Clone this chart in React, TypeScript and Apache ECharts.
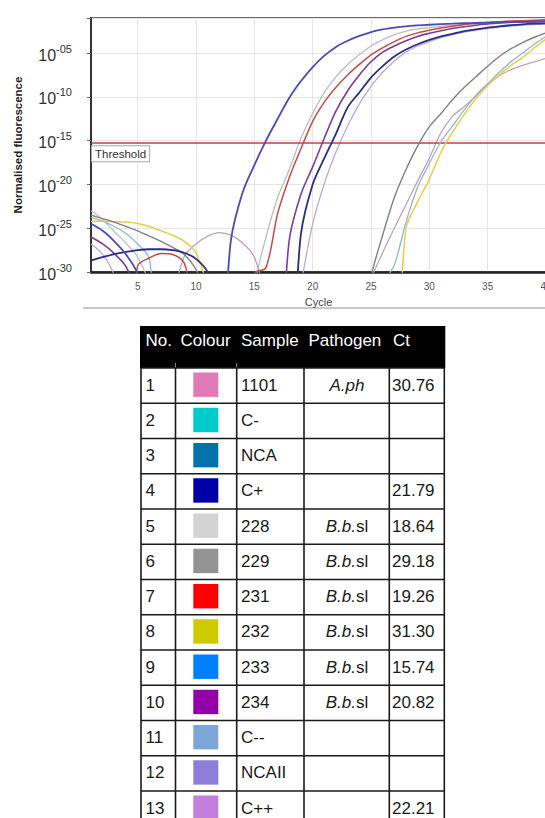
import React, { useEffect, useRef } from 'react';
import * as echarts from 'echarts';

const FONT = '"Liberation Sans", Arial, sans-serif';

// ---------- chart data ----------
const cycles = [1, 2, 3, 4, 5, 6, 7, 8, 9, 10, 11, 12, 13, 14, 15, 16, 17, 18, 19, 20,
  21, 22, 23, 24, 25, 26, 27, 28, 29, 30, 31, 32, 33, 34, 35, 36, 37, 38, 39, 40];

// log10 of the threshold fluorescence
const thresholdLog10 = -15.3;
const yTickExponents = [-30, -25, -20, -15, -10, -5];

// log10 of normalised fluorescence, one value per cycle (-40 = below the axis floor)
const log10Lavender = [-26.8, -28.0, -30.5, -40, -40, -40, -40, -40, -40, -40, -40, -40, -40, -40, -40, -40, -40, -40,
  -31.5, -24.5, -19.9, -16.3, -13.3, -10.8, -8.8, -7.2, -5.9, -4.9, -4.2, -3.7, -3.25, -2.9, -2.6, -2.4, -2.2, -2.05, -1.92, -1.82, -1.75, -1.7];
const log10LightGrey = [-23.0, -24.0, -25.4, -26.7, -28.3, -31.5, -40, -40, -40, -40, -40, -40, -40, -40,
  -31.5, -26.0, -21.5, -18.3, -14.7, -11.9, -9.5, -7.7, -6.3, -5.2, -4.2, -3.5, -2.9, -2.5, -2.25, -2.1, -1.95, -1.85, -1.75, -1.68, -1.6, -1.55, -1.5, -1.47, -1.45, -1.42];
const log10Mauve = [-40, -40, -40, -40, -40, -40, -40, -33, -28.2, -26.8, -25.9, -25.5, -25.8, -26.7, -28.3, -33, -40, -40, -40, -40, -40, -40, -40, -40,
  -31.0, -27.8, -25.0, -22.3, -19.6, -17.0, -14.1, -12.2, -11.1, -9.9, -8.6, -7.6, -6.9, -6.4, -6.0, -5.6];
const log10LightBlue = [-23.8, -24.2, -24.8, -25.6, -26.8, -28.5, -40, -40, -40, -40, -40, -40, -40, -40, -40, -40, -40, -40, -40, -40, -40, -40, -40, -40, -40,
  -31.5, -29.2, -24.3, -20.3, -17.6, -15.1, -13.3, -11.5, -9.8, -8.5, -7.2, -6.0, -5.0, -4.0, -3.1];
const log10Yellow = [-24.2, -24.2, -24.25, -24.3, -24.45, -24.8, -25.3, -25.8, -26.5, -27.8, -32, -40, -40, -40, -40, -40, -40, -40, -40, -40, -40, -40, -40, -40, -40, -40, -40,
  -25.0, -22.0, -19.4, -16.3, -14.0, -12.0, -10.2, -8.7, -7.5, -6.4, -5.5, -4.4, -3.4];
const log10DarkGrey = [-23.5, -23.9, -24.3, -24.8, -25.3, -25.9, -26.5, -27.2, -28.0, -29.7, -33, -40, -40, -40, -40, -40, -40, -40, -40, -40, -40, -40, -40, -40,
  -30.6, -25.8, -21.5, -18.3, -15.6, -13.4, -11.9, -10.3, -8.9, -7.7, -6.5, -5.4, -4.5, -3.8, -3.2, -2.7];
const log10Red = [-40, -40, -40, -40, -29.3, -28.4, -27.9, -28.0, -29.0, -35, -40, -40, -40, -40,
  -30.2, -29.5, -23.3, -19.2, -15.9, -12.8, -10.6, -8.9, -7.5, -6.3, -5.2, -4.4, -3.7, -3.1, -2.7, -2.4, -2.15, -1.95, -1.75, -1.6, -1.5, -1.42, -1.35, -1.3, -1.25, -1.2];
const log10Purple = [-26.0, -26.8, -27.9, -29.4, -33, -40, -40, -40, -40, -40, -40, -40, -40, -40, -40, -40, -40,
  -26.3, -21.1, -18.0, -14.7, -11.6, -9.3, -7.5, -6.0, -4.9, -4.2, -3.6, -3.1, -2.75, -2.45, -2.2, -2.0, -1.82, -1.68, -1.57, -1.48, -1.42, -1.38, -1.35];
const log10Navy = [-28.7, -28.3, -27.95, -27.7, -27.5, -27.4, -27.4, -27.5, -27.8, -28.5, -30.1, -40, -40, -40, -40, -40, -40, -40,
  -25.6, -20.0, -17.0, -14.2, -11.2, -9.5, -7.8, -6.5, -5.4, -4.6, -4.0, -3.5, -3.1, -2.8, -2.5, -2.3, -2.1, -1.95, -1.82, -1.72, -1.65, -1.6];
const log10Blue = [-24.5, -25.3, -26.5, -28.0, -30.3, -40, -40, -40, -40, -40, -40, -40,
  -26.3, -20.9, -17.8, -15.0, -12.5, -10.1, -8.2, -6.6, -5.3, -4.3, -3.6, -3.05, -2.6, -2.3, -2.1, -1.95, -1.85, -1.77, -1.7, -1.65, -1.6, -1.56, -1.53, -1.5, -1.47, -1.45, -1.43, -1.41];

const curveNames = ['C++', '228', '1101', 'C--', '232', '229', '231', '234', 'C+', '233'];
const curveLog10 = [log10Lavender, log10LightGrey, log10Mauve, log10LightBlue, log10Yellow, log10DarkGrey, log10Red, log10Purple, log10Navy, log10Blue];
const curveColours = ['#bda9d6', '#bdbdbd', '#bfa3b8', '#8fb6dc', '#e6cf45', '#808080', '#c84a44', '#7d3c98', '#2c2c86', '#4a4ab8'];
const curveWidths = [1.3, 1.3, 1.3, 1.3, 1.5, 1.4, 1.5, 1.6, 1.8, 1.8];

// ---------- table data ----------
const tableHeaders = ['No.', 'Colour', 'Sample', 'Pathogen', 'Ct'];
const tableNo = ['1', '2', '3', '4', '5', '6', '7', '8', '9', '10', '11', '12', '13'];
const tableColours = ['#de7ab6', '#00cbcb', '#0074a8', '#0000a8', '#d3d3d3', '#939393', '#ff0000', '#cbcb00', '#0080ff', '#9400a8', '#7ca6d8', '#8e7ed8', '#c27fdc'];
const tableSamples = ['1101', 'C-', 'NCA', 'C+', '228', '229', '231', '232', '233', '234', 'C--', 'NCAII', 'C++'];
const tablePathogens = ['A.ph', '', '', '', 'B.b.sl', 'B.b.sl', 'B.b.sl', 'B.b.sl', 'B.b.sl', 'B.b.sl', '', '', ''];
const tableCt = ['30.76', '', '', '21.79', '18.64', '29.18', '19.26', '31.30', '15.74', '20.82', '', '', '22.21'];

function buildTable() {
  const els: any[] = [];
  const colX = [141, 175.5, 236.7, 304, 389.3, 444.3];
  const headerTop = 326;
  const bodyTop = 368;
  const rowH = 35.25;
  const headerTextX = [145.5, 180.5, 241, 308.5, 393];
  els.push({ type: 'rect', shape: { x: 140, y: headerTop, width: 305.3, height: bodyTop - headerTop }, style: { fill: '#000' } });
  tableHeaders.forEach((h, i) => {
    els.push({ type: 'text', x: headerTextX[i], y: 340.5, style: { text: h, fill: '#fff', fontSize: 17, fontFamily: FONT, verticalAlign: 'middle', align: 'left' } });
  });
  [colX[1], colX[2]].forEach((x) => {
    els.push({ type: 'line', shape: { x1: x, y1: 363, x2: x, y2: 368 }, style: { stroke: '#888', lineWidth: 1 } });
  });
  const n = tableNo.length;
  const bottom = bodyTop + rowH * n;
  for (let r = 0; r <= n; r++) {
    const y = bodyTop + rowH * r;
    els.push({ type: 'line', shape: { x1: colX[0], y1: y, x2: colX[5], y2: y }, style: { stroke: '#1a1a1a', lineWidth: 1.6 } });
  }
  colX.forEach((x) => {
    els.push({ type: 'line', shape: { x1: x, y1: bodyTop, x2: x, y2: bottom }, style: { stroke: '#1a1a1a', lineWidth: 1.6 } });
  });
  for (let r = 0; r < n; r++) {
    const top = bodyTop + rowH * r;
    const mid = top + rowH / 2 - 0.5;
    els.push({ type: 'text', x: 145.5, y: mid, style: { text: tableNo[r], fill: '#1a1a1a', fontSize: 17, fontFamily: FONT, verticalAlign: 'middle', align: 'left' } });
    els.push({ type: 'rect', shape: { x: 193.3, y: top + 4.5, width: 25, height: 24.4 }, style: { fill: tableColours[r] } });
    els.push({ type: 'text', x: 241, y: mid, style: { text: tableSamples[r], fill: '#1a1a1a', fontSize: 17, fontFamily: FONT, verticalAlign: 'middle', align: 'left' } });
    const p = tablePathogens[r];
    if (p) {
      const rich = p === 'B.b.sl' ? '{i|B.b.}{n|sl}' : '{i|' + p + '}';
      els.push({
        type: 'text', x: 347, y: mid,
        style: {
          text: rich, fill: '#1a1a1a', fontSize: 17, fontFamily: FONT, verticalAlign: 'middle', align: 'center',
          rich: {
            i: { fontSize: 17, fontFamily: FONT, fontStyle: 'italic', fill: '#1a1a1a' },
            n: { fontSize: 17, fontFamily: FONT, fill: '#1a1a1a' },
          },
        },
      });
    }
    if (tableCt[r]) {
      els.push({ type: 'text', x: 392, y: mid, style: { text: tableCt[r], fill: '#1a1a1a', fontSize: 17, fontFamily: FONT, verticalAlign: 'middle', align: 'left' } });
    }
  }
  return els;
}

export default function App() {
  const ref = useRef<HTMLDivElement>(null);
  useEffect(() => {
    const chart = echarts.init(ref.current as HTMLDivElement, null, { renderer: 'svg' });
    const series: any[] = curveLog10.map((arr, k) => ({
      name: curveNames[k],
      type: 'line',
      data: arr.map((e, i) => [cycles[i], e]),
      showSymbol: false,
      symbol: 'none',
      smooth: 0.3,
      clip: true,
      lineStyle: { color: curveColours[k], width: curveWidths[k] },
      itemStyle: { color: curveColours[k] },
      z: 2 + k,
    }));
    series.push({
      name: 'Threshold',
      type: 'line',
      data: [],
      z: 20,
      markLine: {
        silent: true,
        symbol: 'none',
        data: [{ yAxis: thresholdLog10 }],
        lineStyle: { color: '#c0403c', width: 1.5, type: 'solid' },
        label: {
          show: true,
          position: 'insideStartBottom',
          formatter: 'Threshold',
          fontSize: 11.5,
          fontFamily: FONT,
          color: '#333',
          backgroundColor: '#fff',
          borderColor: '#a8a8a8',
          borderWidth: 1,
          padding: [2, 3, 1, 3],
          distance: [1, 3],
        },
      },
    });
    const option: any = {
      animation: false,
      backgroundColor: '#fff',
      textStyle: { fontFamily: FONT },
      grid: {
        left: 91, top: 18, width: 455, height: 254,
        containLabel: false, outerBoundsMode: 'none',
        show: true, borderColor: '#6a6a6a', borderWidth: 2, backgroundColor: 'transparent',
      },
      xAxis: {
        type: 'value',
        min: 1,
        max: 40,
        splitNumber: 8,
        minInterval: 5,
        maxInterval: 5,
        name: 'Cycle',
        nameLocation: 'middle',
        nameGap: 24,
        nameTextStyle: { fontSize: 11, color: '#444', fontFamily: FONT },
        axisLine: { show: true, lineStyle: { color: '#222', width: 2.5 } },
        axisTick: { show: false },
        axisLabel: {
          margin: 9, fontSize: 10, color: '#555', fontFamily: FONT,
          formatter: (v: number) => (v % 5 === 0 ? String(v) : ''),
        },
        splitLine: { show: true, lineStyle: { color: '#e6e6e6', width: 1 } },
      },
      yAxis: {
        type: 'value',
        min: yTickExponents[0],
        max: -1,
        interval: 5,
        name: 'Normalised fluorescence',
        nameLocation: 'middle',
        nameGap: 67,
        nameTextStyle: { fontSize: 11.5, fontWeight: 'bold', color: '#222', fontFamily: FONT },
        axisLine: { show: true, lineStyle: { color: '#333', width: 2 } },
        axisTick: { show: true, length: 4, lineStyle: { color: '#666' } },
        axisLabel: {
          margin: 19,
          color: '#333',
          fontFamily: FONT,
          formatter: (v: number) => {
            const e = Math.round(v);
            if (yTickExponents.indexOf(e) < 0) return '';
            return '{b|10}{s|-' + String(-e).padStart(2, '0') + '}';
          },
          rich: {
            b: { fontSize: 16, color: '#333', fontFamily: FONT, lineHeight: 20, verticalAlign: 'bottom' },
            s: { fontSize: 11, color: '#333', fontFamily: FONT, lineHeight: 20, verticalAlign: 'top' },
          },
        },
        splitLine: { show: true, lineStyle: { color: '#e6e6e6', width: 1 } },
      },
      series,
      graphic: [
        { type: 'line', shape: { x1: 83, y1: 308, x2: 545, y2: 308 }, style: { stroke: '#c8c8c8', lineWidth: 2 } },
        ...buildTable(),
      ],
    };
    chart.setOption(option);
    return () => chart.dispose();
  }, []);
  return <div ref={ref} style={{ position: 'absolute', left: 0, top: 0, width: 545, height: 818, background: '#fff' }} />;
}
